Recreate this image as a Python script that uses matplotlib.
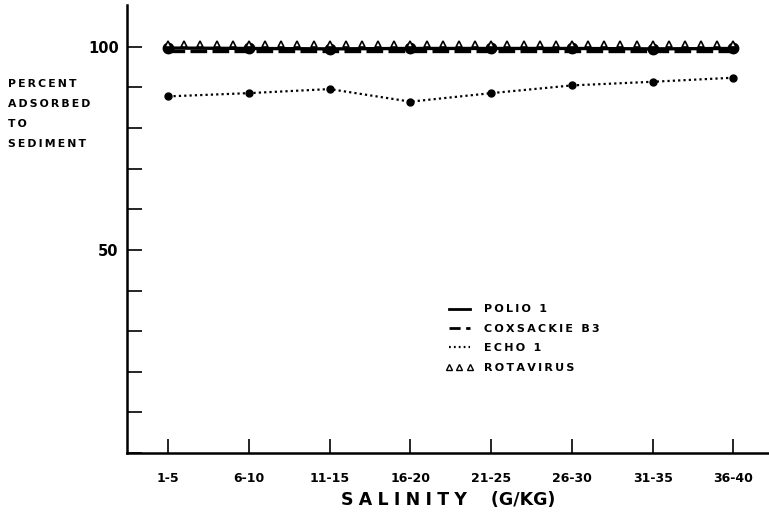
import numpy as np
import matplotlib
matplotlib.use("Agg")
import matplotlib.pyplot as plt
from matplotlib.lines import Line2D

categories = ["1-5", "6-10", "11-15", "16-20", "21-25", "26-30", "31-35", "36-40"]
polio1 = [99.7, 99.6, 99.5, 99.6, 99.6, 99.6, 99.5, 99.6]
coxsackie_b3 = [99.0, 99.0, 99.0, 99.0, 99.0, 99.0, 99.0, 99.0]
echo1 = [87.8, 88.6, 89.6, 86.5, 88.6, 90.5, 91.4, 92.4]
rotavirus = [100.6, 100.6, 100.6, 100.6, 100.6, 100.6, 100.6, 100.6]
ytick_values = [0, 10, 20, 30, 40, 50, 60, 70, 80, 90, 100]
ytick_labels = ["", "", "", "", "", "50", "", "", "", "", "100"]

W, H = 769, 513
fig = plt.figure(figsize=(W / 100, H / 100), dpi=100)
ax = fig.add_axes([127 / W, 60 / H, (W - 127) / W, (H - 65) / H])

x = np.arange(len(categories))
ink = "black"

ax.plot(x, polio1, color=ink, lw=2.4, ls="-", marker="o", ms=7.5, zorder=4)
ax.plot(x, coxsackie_b3, color=ink, lw=2.4, ls=(0, (5, 1.6)), zorder=3)
ax.plot(x, echo1, color=ink, lw=1.6, ls=(0, (1, 1.4)), marker="o", ms=5,
        zorder=4)

# rotavirus: triangle "line style" drawn between consecutive points
xs, ys = [], []
for i in range(len(x) - 1):
    t = np.linspace(0, 1, 5, endpoint=False)
    xs.extend(x[i] + t * (x[i + 1] - x[i]))
    ys.extend(rotavirus[i] + t * (rotavirus[i + 1] - rotavirus[i]))
xs.append(x[-1]); ys.append(rotavirus[-1])
ax.plot(xs, ys, ls="none", marker="^", ms=5, mfc="white", mec=ink, mew=1.2, zorder=5)

ax.set_xlim(-0.51, 7.44)
ax.set_ylim(0, 110.3)
ax.set_xticks(x)
ax.set_xticklabels(categories, fontsize=9, fontweight="bold")
ax.set_yticks(ytick_values)
ax.set_yticklabels(ytick_labels, fontsize=10.5, fontweight="bold")
ax.tick_params(axis="x", direction="in", length=10, width=1.2, pad=14)
ax.tick_params(axis="y", direction="in", length=11, width=1.2, pad=6)
for s in ["top", "right"]:
    ax.spines[s].set_visible(False)
for s in ["left", "bottom"]:
    ax.spines[s].set_linewidth(1.8)

def spaced(s, sep="\u2009"):
    return sep.join(s)

ax.set_xlabel(spaced("SALINITY", "\u2009\u200a") + "    (G/KG)", fontsize=12.5,
              fontweight="bold", labelpad=4)

for i, word in enumerate(["PERCENT", "ADSORBED", "TO", "SEDIMENT"]):
    fig.text(8 / W, 1 - (84 + 20 * i) / H, spaced(word), fontsize=7.8, fontweight="bold",
             va="center", ha="left")

handles = [
    Line2D([], [], color=ink, lw=2, ls="-"),
    Line2D([], [], color=ink, lw=2, ls=(0, (4, 2))),
    Line2D([], [], color=ink, lw=1.6, ls=(0, (0.8, 1.4))),
    Line2D([], [], ls="none", marker="^", ms=4, mfc="white", mec=ink, mew=1.0),
]
labels = [spaced("POLIO 1"), spaced("COXSACKIE B3"), spaced("ECHO 1"), spaced("ROTAVIRUS")]
leg = ax.legend(handles, labels, loc="upper left",
                frameon=False, numpoints=3, handlelength=2.5, handletextpad=1.0,
                labelspacing=0.85, prop={"size": 8, "weight": "bold"}, borderaxespad=0)
leg.set_bbox_to_anchor((441 / W, 1 - 300 / H), transform=fig.transFigure)

fig.savefig("out.png", dpi=100)
